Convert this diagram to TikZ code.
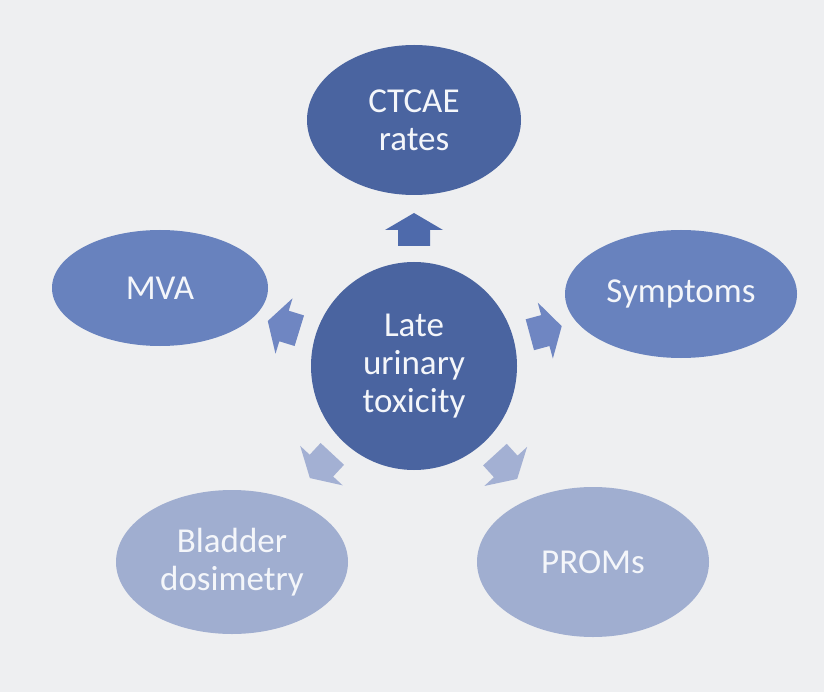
\documentclass[tikz,border=0pt]{standalone}
\usepackage{fontspec}
\setmainfont{Carlito}
\usetikzlibrary{shapes.geometric,calc}
\definecolor{bgc}{HTML}{EEEFF1}
\definecolor{darkc}{HTML}{4A64A0}
\definecolor{darka}{HTML}{4E6AAB}
\definecolor{midc}{HTML}{6882BE}
\definecolor{mida}{HTML}{6F86C2}
\definecolor{lightc}{HTML}{A0AED0}
\definecolor{lighta}{HTML}{A3B0D3}
\definecolor{txtc}{HTML}{F4F6FA}
\tikzset{
  bubble/.style={ellipse, inner sep=0pt, align=center, text=txtc,
    font=\fontsize{35}{38}\selectfont}
}
\begin{document}
\begin{tikzpicture}[x=1pt,y=1pt]
\fill[bgc] (0,0) rectangle (824,-692);
\useasboundingbox (0,0) rectangle (824,-692);
\node[bubble, fill=darkc, minimum width=206, minimum height=208] (c) at (414,-366) {Late\\urinary\\toxicity};
\node[bubble, fill=darkc, minimum width=214, minimum height=150] (ctcae) at (414,-120) {CTCAE\\rates};
\node[bubble, fill=midc, minimum width=216, minimum height=116] (mva) at (160,-288) {MVA};
\node[bubble, fill=midc, minimum width=232, minimum height=128] (symp) at (681,-294) {Symptoms};
\node[bubble, fill=lightc, minimum width=232, minimum height=144] (blad) at (232,-562) {Bladder\\dosimetry};
\node[bubble, fill=lightc, minimum width=232, minimum height=150] (proms) at (593,-562) {PROMs};
\foreach \ang/\col in {90/darka, 162.9/mida, 15.1/mida, 227.1/lighta, -47.6/lighta}{
  \begin{scope}[shift={(c.center)}, rotate=\ang, shift={(120,0)}]
    \fill[\col] (0,-16) -- (16,-16) -- (16,-29) -- (33,0) -- (16,29) -- (16,16) -- (0,16) -- cycle;
  \end{scope}
}
\end{tikzpicture}
\end{document}
